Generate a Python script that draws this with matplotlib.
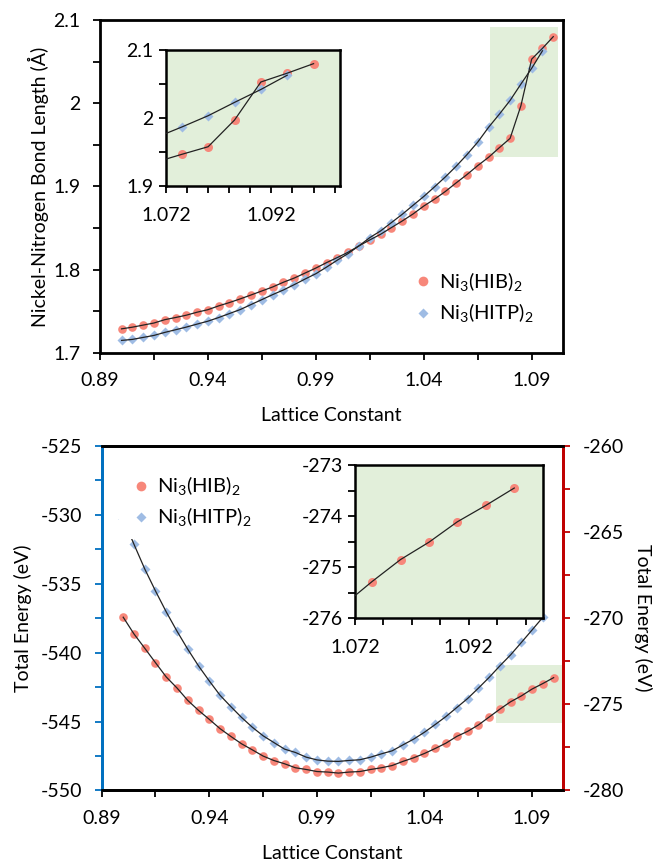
import matplotlib
matplotlib.use("Agg")
import matplotlib.pyplot as plt
import matplotlib.ticker as ticker
from matplotlib.lines import Line2D
from matplotlib.patches import Rectangle

plt.rcParams['font.family'] = ['Lato', 'DejaVu Sans']
plt.rcParams['font.size'] = 14
plt.rcParams['axes.unicode_minus'] = False

# lattice constants (x) for every computed point
lattice = [0.900, 0.905, 0.910, 0.915, 0.920, 0.925, 0.930, 0.935, 0.940, 0.945,
           0.950, 0.955, 0.960, 0.965, 0.970, 0.975, 0.980, 0.985, 0.990, 0.995,
           1.000, 1.005, 1.010, 1.015, 1.020, 1.025, 1.030, 1.035, 1.040, 1.045,
           1.050, 1.055, 1.060, 1.065, 1.070, 1.075, 1.080, 1.085, 1.090, 1.095,
           1.100]

# Ni-N bond lengths
bond_hib = [1.729, 1.731, 1.7335, 1.736, 1.740, 1.7426, 1.7454, 1.749, 1.752, 1.7566,
            1.7606, 1.765, 1.7697, 1.7745, 1.7793, 1.785, 1.790, 1.796, 1.802, 1.8086,
            1.8147, 1.8211, 1.8287, 1.8358, 1.8426, 1.8506, 1.8585, 1.8669, 1.8765, 1.8848,
            1.894, 1.9043, 1.9143, 1.9251, 1.935, 1.9466, 1.9578, 1.997, 2.053, 2.066,
            2.080]
bond_hitp = [1.7151, 1.7163, 1.7187, 1.7211, 1.7247, 1.7279, 1.7311, 1.7347, 1.7382, 1.7426,
             1.7474, 1.7522, 1.7582, 1.7641, 1.7701, 1.7757, 1.7821, 1.7888, 1.7952, 1.8032,
             1.8116, 1.8195, 1.8287, 1.8386, 1.8466, 1.8566, 1.8665, 1.8773, 1.888, 1.8996,
             1.9115, 1.9243, 1.9382, 1.9533, 1.971, 1.9868, 2.0034, 2.023, 2.042, 2.063]

# total energies (HITP on the left axis, HIB on the right axis)
energy_hitp = [-530.3, -532.13, -533.92, -535.52, -537.04, -538.44, -539.75, -540.96, -542.05, -543.09,
               -543.91, -544.70, -545.41, -546.03, -546.52, -547.00, -547.24, -547.58, -547.78, -547.87,
               -547.89, -547.82, -547.77, -547.58, -547.34, -547.12, -546.69, -546.27, -545.77, -545.21,
               -544.63, -543.98, -543.33, -542.58, -541.80, -540.96, -540.16, -539.26, -538.35, -537.43]
energy_hib = [-269.94, -270.91, -271.74, -272.58, -273.41, -274.05, -274.77, -275.35, -275.87, -276.41,
              -276.86, -277.29, -277.64, -278.00, -278.26, -278.45, -278.68, -278.78, -278.90, -278.93,
              -278.99, -278.93, -278.90, -278.78, -278.68, -278.55, -278.31, -278.10, -277.85, -277.56,
              -277.25, -276.86, -276.57, -276.20, -275.74, -275.28, -274.85, -274.51, -274.11, -273.79,
              -273.45]

lab_hib = r'Ni$_\mathregular{3}$(HIB)$_\mathregular{2}$'
lab_hitp = r'Ni$_\mathregular{3}$(HITP)$_\mathregular{2}$'

RED = '#F7877A'
BLUE = '#9FBCE4'
GREEN = '#E2EFDA'

x_major = [0.89, 0.94, 0.99, 1.04, 1.09]
x_minor = [0.915, 0.965, 1.015, 1.065]
fmt = ticker.FuncFormatter(lambda v, p: '%g' % round(v, 4))


def series(ax, xs, ys, color, marker, ms, zo=3):
    ax.plot(xs, ys, linestyle='none', marker=marker, color=color, ms=ms, mec='none', zorder=zo)
    ax.plot(xs, ys, color='#222222', lw=0.9, zorder=zo + 1)


def style(ax, lw=2.0, ypad=9, xpad=9):
    for s in ax.spines.values():
        s.set_linewidth(lw)
    ax.tick_params(which='both', direction='out', length=5, width=1.3, labelsize=14)
    ax.tick_params(axis='y', pad=ypad)
    ax.tick_params(axis='x', pad=xpad)


fig = plt.figure(figsize=(6.56, 8.66), dpi=100)

# ---------------- top: bond length ----------------
ax1 = fig.add_axes([0.1524, 0.5924, 0.7058, 0.3845])
series(ax1, lattice, bond_hib, RED, 'o', 6.2)
series(ax1, lattice[:len(bond_hitp)], bond_hitp, BLUE, 'D', 5.2)
ax1.add_patch(Rectangle((1.0705, 1.936), 0.0315, 0.156, facecolor=GREEN, edgecolor='none', zorder=0))
ax1.set_xlim(0.89, 1.1045)
ax1.set_ylim(1.7, 2.1)
ax1.xaxis.set_major_locator(ticker.FixedLocator(x_major))
ax1.xaxis.set_minor_locator(ticker.FixedLocator(x_minor))
ax1.yaxis.set_major_locator(ticker.MultipleLocator(0.1))
ax1.yaxis.set_minor_locator(ticker.MultipleLocator(0.05))
ax1.xaxis.set_major_formatter(fmt)
ax1.yaxis.set_major_formatter(fmt)
style(ax1)
ax1.set_xlabel('Lattice Constant', fontsize=14, labelpad=13)
ax1.set_ylabel('Nickel-Nitrogen Bond Length (Å)', fontsize=14, labelpad=3)
h1 = [Line2D([], [], ls='none', marker='o', color=RED, ms=7, mec='none'),
      Line2D([], [], ls='none', marker='D', color=BLUE, ms=5.5, mec='none')]
ax1.legend(h1, [lab_hib, lab_hitp], loc='lower right', bbox_to_anchor=(0.975, 0.03),
           frameon=False, fontsize=14.5, handletextpad=0.2, handlelength=1.2,
           labelspacing=0.4)

ins1 = fig.add_axes([0.2530, 0.7852, 0.2652, 0.1570])
ins1.set_facecolor(GREEN)
series(ins1, lattice, bond_hib, RED, 'o', 6.5)
series(ins1, lattice[:len(bond_hitp)], bond_hitp, BLUE, 'D', 5.5)
ins1.set_xlim(1.072, 1.105)
ins1.set_ylim(1.9, 2.1)
ins1.xaxis.set_major_locator(ticker.FixedLocator([1.072, 1.092]))
ins1.xaxis.set_minor_locator(ticker.FixedLocator([1.076, 1.080, 1.084, 1.088, 1.096, 1.100, 1.104]))
ins1.yaxis.set_major_locator(ticker.MultipleLocator(0.1))
ins1.yaxis.set_minor_locator(ticker.MultipleLocator(0.05))
ins1.xaxis.set_major_formatter(fmt)
ins1.yaxis.set_major_formatter(fmt)
style(ins1, 1.8, ypad=4, xpad=10)

# ---------------- bottom: total energy ----------------
ax2 = fig.add_axes([0.155, 0.0872, 0.7037, 0.3978])
ax3 = ax2.twinx()
series(ax2, lattice[:len(energy_hitp)], energy_hitp, BLUE, 'D', 5.2)
series(ax3, lattice, energy_hib, RED, 'o', 6.2)
ax2.set_xlim(0.89, 1.1045)
ax2.set_ylim(-550, -525)
ax3.set_ylim(-280, -260)

# highlight box given in right-axis units, mapped onto the left axis so it stays behind
hl_x0, hl_x1, hl_r0, hl_r1 = 1.073, 1.104, -276.1, -272.7
to_left = lambda r: -550 + (r + 280) * 25 / 20
ax2.add_patch(Rectangle((hl_x0, to_left(hl_r0)), hl_x1 - hl_x0, to_left(hl_r1) - to_left(hl_r0),
                        facecolor=GREEN, edgecolor='none', zorder=0))

ax2.xaxis.set_major_locator(ticker.FixedLocator(x_major))
ax2.xaxis.set_minor_locator(ticker.FixedLocator(x_minor))
ax2.xaxis.set_major_formatter(fmt)
ax2.yaxis.set_major_locator(ticker.MultipleLocator(5))
ax2.yaxis.set_minor_locator(ticker.MultipleLocator(2.5))
ax3.yaxis.set_major_locator(ticker.MultipleLocator(5))
ax3.yaxis.set_minor_locator(ticker.MultipleLocator(2.5))
style(ax2)
style(ax3)
ax2.spines['left'].set_color('#0070C0')
ax3.spines['left'].set_color('#0070C0')
ax3.spines['right'].set_color('#C00000')
ax2.spines['right'].set_color('#C00000')
ax2.tick_params(axis='y', which='both', color='#0070C0')
ax3.tick_params(axis='y', which='both', color='#C00000')
ax2.set_xlabel('Lattice Constant', fontsize=14, labelpad=13)
ax2.set_ylabel('Total Energy (eV)', fontsize=14, labelpad=6)
ax3.set_ylabel('Total Energy (eV)', fontsize=14, rotation=270, labelpad=20)
leg = ax3.legend(h1, [lab_hib, lab_hitp], loc='upper left', bbox_to_anchor=(0.015, 0.975),
                 frameon=True, fancybox=False, edgecolor='none', facecolor='white', framealpha=1,
                 fontsize=14.5, handletextpad=0.2, handlelength=1.2, labelspacing=0.4,
                 borderpad=0.5)

ins2 = fig.add_axes([0.5412, 0.2860, 0.2861, 0.1770])
ins2.set_facecolor(GREEN)
series(ins2, lattice, energy_hib, RED, 'o', 6.5)
ins2.set_xlim(1.072, 1.105)
ins2.set_ylim(-276, -273)
ins2.xaxis.set_major_locator(ticker.FixedLocator([1.072, 1.092]))
ins2.xaxis.set_minor_locator(ticker.FixedLocator([1.077, 1.082, 1.087, 1.097, 1.102]))
ins2.yaxis.set_major_locator(ticker.MultipleLocator(1))
ins2.yaxis.set_minor_locator(ticker.MultipleLocator(0.5))
ins2.xaxis.set_major_formatter(fmt)
ins2.yaxis.set_major_formatter(fmt)
style(ins2, 1.8, ypad=4, xpad=10)

fig.savefig('out.png', dpi=100)
